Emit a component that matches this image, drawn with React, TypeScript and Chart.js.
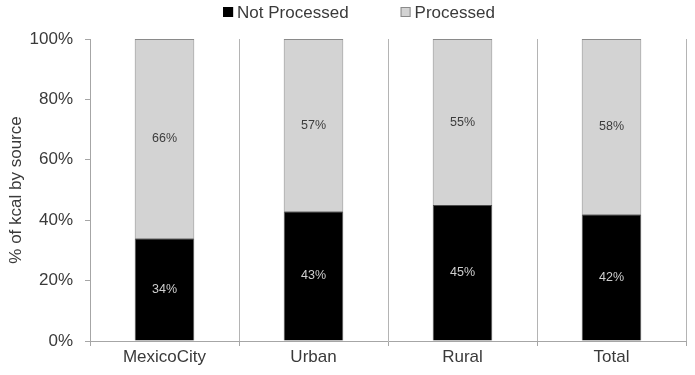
import React, { useEffect, useRef } from "react";
import { Chart, registerables } from "chart.js";

Chart.register(...registerables);

const categories = ["MexicoCity", "Urban", "Rural", "Total"];
const notProcessed = [34, 43, 45, 42];
const processed = [66, 57, 55, 58];
const yTicks = [0, 20, 40, 60, 80, 100];

const FONT = "'Liberation Sans', Arial, Helvetica, sans-serif";
const TEXT = "#3a3a3a";
const AXIS = "#a6a6a6";

// Segment value labels, centred inside each stacked piece
const segmentLabels = {
  id: "segmentLabels",
  afterDatasetsDraw(chart: any) {
    const ctx = chart.ctx;
    ctx.save();
    ctx.font = `12.5px ${FONT}`;
    ctx.textAlign = "center";
    ctx.textBaseline = "middle";
    chart.data.datasets.forEach((ds: any, di: number) => {
      const meta = chart.getDatasetMeta(di);
      meta.data.forEach((el: any, i: number) => {
        const v = ds.data[i];
        ctx.fillStyle = ds.labelColor;
        ctx.fillText(`${v}%`, el.x, (el.y + el.base) / 2);
      });
    });
    ctx.restore();
  },
};

// Legend drawn across the top with wide spacing between entries
const topLegend = {
  id: "topLegend",
  afterDraw(chart: any) {
    const ctx = chart.ctx;
    ctx.save();
    ctx.font = `17px ${FONT}`;
    ctx.textBaseline = "middle";
    const box = 10;
    const gapText = 4;
    const gapItems = 52;
    const items = chart.data.datasets.map((ds: any) => ({
      label: ds.label,
      fill: ds.backgroundColor,
      stroke: ds.legendBorder,
      w: box + gapText + ctx.measureText(ds.label).width,
    }));
    const total =
      items.reduce((s: number, it: any) => s + it.w, 0) + gapItems * (items.length - 1);
    let x = 359 - total / 2;
    const y = 12;
    items.forEach((it: any) => {
      ctx.fillStyle = it.fill;
      ctx.fillRect(x, y - box / 2, box, box);
      ctx.strokeStyle = it.stroke;
      ctx.lineWidth = 1;
      ctx.strokeRect(x + 0.5, y - box / 2 + 0.5, box - 1, box - 1);
      ctx.fillStyle = TEXT;
      ctx.textAlign = "left";
      ctx.fillText(it.label, x + box + gapText, y + 1);
      x += it.w + gapItems;
    });
    ctx.restore();
  },
};

export default function App() {
  const ref = useRef<HTMLCanvasElement>(null);

  useEffect(() => {
    if (!ref.current) return;
    const chart = new Chart(ref.current, {
      type: "bar",
      data: {
        labels: categories,
        datasets: [
          {
            label: "Not Processed",
            data: notProcessed,
            backgroundColor: "#000000",
            borderColor: "#4d4d4d",
            borderWidth: 1,
            legendBorder: "#000000",
            labelColor: "#cfcfcf",
            barPercentage: 0.4,
            categoryPercentage: 1,
          } as any,
          {
            label: "Processed",
            data: processed,
            backgroundColor: "#d3d3d3",
            borderColor: "#8a8a8a",
            borderWidth: 1,
            legendBorder: "#8a8a8a",
            labelColor: "#3c3c3c",
            barPercentage: 0.4,
            categoryPercentage: 1,
          } as any,
        ],
      },
      options: {
        responsive: false,
        animation: false,
        layout: { padding: { top: 39, right: 9, left: 0, bottom: 0 } },
        plugins: {
          legend: { display: false },
          tooltip: { enabled: false },
        },
        scales: {
          x: {
            stacked: true,
            afterFit(scale: any) {
              scale.height = 34;
            },
            grid: {
              offset: true,
              color: "#b4b4b4",
              lineWidth: 1,
              drawOnChartArea: true,
              drawTicks: true,
              tickLength: 5,
              tickColor: AXIS,
            },
            border: { display: true, color: AXIS, width: 1 },
            ticks: {
              color: TEXT,
              font: { family: FONT, size: 17 },
              padding: 1,
              maxRotation: 0,
            },
          },
          y: {
            stacked: true,
            min: 0,
            max: 100,
            afterFit(scale: any) {
              scale.width = 90;
            },
            afterBuildTicks(scale: any) {
              scale.ticks = yTicks.map((v) => ({ value: v }));
            },
            grid: {
              drawOnChartArea: false,
              drawTicks: true,
              tickLength: 5,
              color: AXIS,
            },
            border: { display: true, color: AXIS, width: 1 },
            ticks: {
              color: TEXT,
              font: { family: FONT, size: 17 },
              padding: 12,
              callback: (v: any) => `${v}%`,
            },
            title: {
              display: true,
              text: "% of kcal by source",
              color: TEXT,
              font: { family: FONT, size: 17 },
              padding: { top: 6, bottom: 0 },
            },
          },
        },
      },
      plugins: [segmentLabels, topLegend],
    });
    return () => chart.destroy();
  }, []);

  return (
    <div style={{ position: "fixed", left: 0, top: 0, width: 695, height: 375, background: "#fff" }}>
      <canvas ref={ref} width={695} height={375} style={{ width: 695, height: 375, display: "block" }} />
    </div>
  );
}
